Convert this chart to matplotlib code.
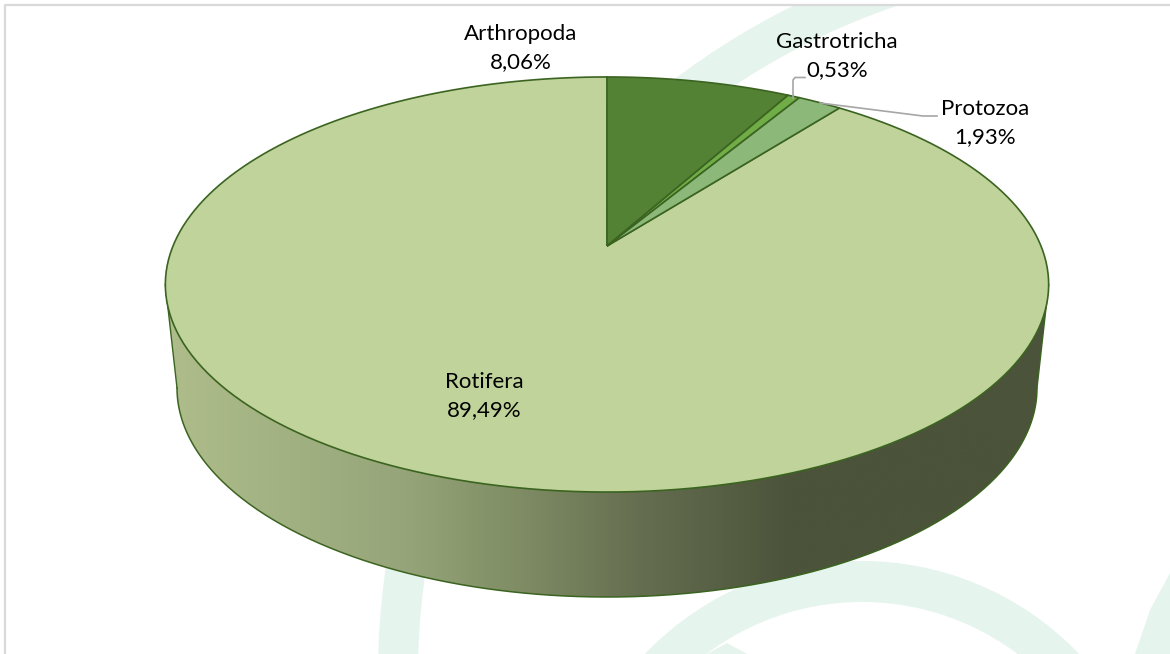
"""Rotifera pie, drawn as a 3D disc with perspective"""

import matplotlib

matplotlib.use("Agg")
import matplotlib.pyplot as plt
import numpy as np
from matplotlib.colors import LinearSegmentedColormap
from matplotlib.patches import PathPatch, Polygon, Rectangle, Wedge
from matplotlib.path import Path

groups = ["Arthropoda", "Gastrotricha", "Protozoa", "Rotifera"]
shares = [8.06, 0.53, 1.93, 89.49]
shareLabels = ["8,06%", "0,53%", "1,93%", "89,49%"]
sliceColors = ["#548235", "#70AD47", "#8CB87A", "#C0D39A"]

edgeColor = "#3B6420"
leaderColor = "#A6A6A6"
markColor = "#E6F4EE"
frameColor = "#D9D9D9"

sideStops = [
    (165, "#AEBD8A"),
    (400, "#97A67A"),
    (520, "#7F8C64"),
    (640, "#656E50"),
    (790, "#4B533A"),
    (1050, "#4B533A"),
]

# perspective of the top face, in image pixels
CX, CY = 607, 246
RIM_A, RIM_B, RIM_K = 434, 200.4, 0.1855


def rimPoints(startShare, endShare, n=200):
    """Point on the top rim for cumulative shares (percent, clockwise from 12h)"""
    t = np.radians(np.linspace(startShare, endShare, n) * 3.6)
    u, v = np.sin(t), np.cos(t)
    d = 1 + RIM_K * v
    return CX + RIM_A * u / d, CY - RIM_B * v / d


fig = plt.figure(figsize=(11.7, 6.54), dpi=100)
ax = fig.add_axes([0, 0, 1, 1])
ax.set_xlim(0, 1170)
ax.set_ylim(654, 0)
ax.axis("off")

# watermark
pageClip = Rectangle((0, 6), 1170, 648, transform=ax.transData)
bigArc = Wedge((1125, 675), 747, 170, 270, width=40, facecolor=markColor, edgecolor="none", zorder=1)
ax.add_patch(bigArc)
bigArc.set_clip_path(pageClip)
ax.add_patch(Wedge((862, 861), 300, 180, 360, width=41, facecolor=markColor, edgecolor="none", zorder=1))
ax.add_patch(Polygon([(727, 643), (747, 654), (707, 654)], facecolor=markColor, edgecolor="none", zorder=1))
ax.add_patch(Polygon([(1135, 654), (1150, 610), (1170, 573), (1170, 654)], facecolor=markColor, edgecolor="none", zorder=1))

# frame
ax.plot([5, 5, 1170], [654, 5, 5], color=frameColor, lw=1.6, zorder=2)

# side wall with horizontal gradient
sideX = np.array([s[0] for s in sideStops], dtype=float)
sideCmap = LinearSegmentedColormap.from_list(
    "side", [((x - sideX[0]) / (sideX[-1] - sideX[0]), c) for x, c in sideStops]
)
topX, topY = rimPoints(27.97, 72.03, 300)
t = np.radians(np.linspace(180, 0, 300))
lowX = 607 + 430 * np.cos(t)
lowY = 388 + 209 * np.sin(t)
wall = Polygon(
    np.column_stack([np.r_[topX[::-1], lowX[::-1]], np.r_[topY[::-1], lowY[::-1]]]),
    closed=True, facecolor="none", edgecolor="none", zorder=3,
)
ax.add_patch(wall)
im = ax.imshow(
    np.linspace(0, 1, 512)[None, :],
    extent=[sideX[0], sideX[-1], 610, 250],
    cmap=sideCmap,
    aspect="auto",
    zorder=3,
)
im.set_clip_path(wall)
ax.set_xlim(0, 1170)
ax.set_ylim(654, 0)
ax.plot(lowX, lowY, color=edgeColor, lw=1.1, zorder=4)
ax.plot([lowX[0], topX[-1]], [lowY[0], topY[-1]], color=edgeColor, lw=1.0, zorder=4)
ax.plot([lowX[-1], topX[0]], [lowY[-1], topY[0]], color=edgeColor, lw=1.0, zorder=4)

# top face slices
cum = np.r_[0, np.cumsum(shares)]
for i in [3, 0, 1, 2]:
    xs, ys = rimPoints(cum[i], cum[i + 1])
    verts = np.column_stack([np.r_[CX, xs, CX], np.r_[CY, ys, CY]])
    ax.add_patch(PathPatch(Path(verts), facecolor=sliceColors[i], edgecolor=edgeColor, lw=1.2, zorder=5))

# leader lines
ax.plot([793, 793, 795, 805], [98, 80, 77.5, 77.5], color=leaderColor, lw=1.2, zorder=6)
ax.plot([820, 923, 937], [103, 116, 116], color=leaderColor, lw=1.2, zorder=6)

# labels
labelPos = [(521, 48), (837, 56), (985, 123), (484, 396)]
for name, share, (x, y) in zip(groups, shareLabels, labelPos):
    ax.text(x, y, f"{name}\n{share}", ha="center", va="center", family="Lato",
            fontsize=16, linespacing=1.5, color="#000000", zorder=7)

fig.savefig("out.png", dpi=100)
